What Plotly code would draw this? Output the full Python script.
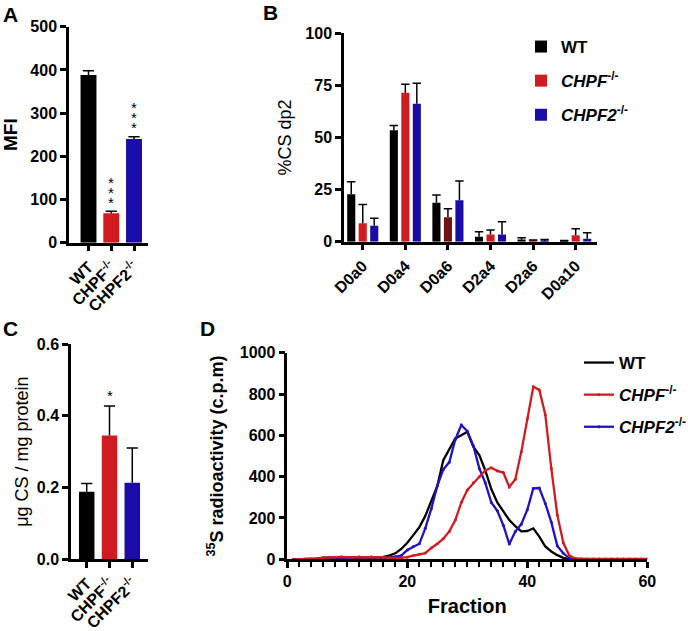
import plotly.graph_objects as go

FONT = "Arial, Liberation Sans, sans-serif"
BLACK = "#000000"
RED = "#d01c20"
MAROON = "#6e1212"
BLUE = "#1b0ca8"
BLUE_LINE = "#2211c0"

# ---------------- Panel A : MFI ----------------
a_groups = ["WT", "CHPF<sup>-/-</sup>", "CHPF2<sup>-/-</sup>"]
a_mfi = [388, 68, 240]
a_err = [10, 5, 5]
a_stars = [0, 3, 3]          # number of stacked asterisks

# ---------------- Panel B : %CS dp2 ----------------
b_cats = ["D0a0", "D0a4", "D0a6", "D2a4", "D2a6", "D0a10"]
b_wt = [22.8, 53.5, 18.7, 2.4, 1.0, 0.3]
b_wt_err = [6.0, 2.2, 3.7, 2.4, 0.9, 0.3]
b_chpf = [8.8, 71.5, 11.7, 3.4, 0.4, 3.1]
b_chpf_err = [9.0, 4.0, 4.1, 2.2, 0.4, 3.1]
b_chpf2 = [7.7, 66.2, 19.9, 3.5, 0.3, 1.4]
b_chpf2_err = [3.5, 9.8, 9.2, 6.1, 0.8, 2.9]

# ---------------- Panel C : ug CS / mg protein ----------------
c_groups = ["WT", "CHPF<sup>-/-</sup>", "CHPF2<sup>-/-</sup>"]
c_vals = [0.188, 0.345, 0.213]
c_err = [0.023, 0.082, 0.097]
c_stars = [0, 1, 0]

# ---------------- Panel D : 35S radioactivity ----------------
d_fraction = list(range(1, 61))
d_wt = [0, 0, 0, 1, 3, 8, 9, 9, 9, 9,
        9, 9, 9, 10, 10, 12, 18, 29, 50, 80,
        117, 155, 210, 280, 355, 480, 535, 585, 600, 617,
        545, 505, 430, 340, 275, 230, 190, 160, 135, 137,
        150, 110, 62, 38, 20, 7, 1, 0, 0, 0,
        0, 0, 0, 0, 0, 0, 0, 0, 0, 0]
d_chpf = [0, 0, 1, 2, 3, 8, 10, 10, 12, 10,
          10, 12, 10, 12, 10, 10, 8, 6, 8, 10,
          18, 25, 30, 55, 75, 100, 135, 190, 275, 335,
          370, 400, 430, 443, 428, 420, 350, 387, 520, 680,
          835, 820, 700, 440, 215, 80, 18, 4, 2, 2,
          2, 2, 2, 2, 2, 2, 2, 2, 2, 2]
d_chpf2 = [0, 0, 0, 0, 1, 3, 4, 4, 5, 5,
           5, 5, 5, 6, 6, 7, 8, 12, 18, 45,
           62, 75, 150, 245, 355, 435, 470, 580, 650, 620,
           550, 440, 370, 275, 235, 165, 74, 134, 170, 240,
           343, 345, 270, 180, 65, 29, 5, 0, 0, 0,
           0, 0, 0, 0, 0, 0, 0, 0, 0, 0]

W, H = 688, 631


def px_x(p):
    return p / W


def px_y(p):
    return 1 - p / H


fig = go.Figure()


def err_trace(x, vals, errs, xa, ya, cap):
    tops = [v + e for v, e in zip(vals, errs)]
    return go.Scatter(
        x=x, y=tops, mode="markers", xaxis=xa, yaxis=ya,
        marker=dict(symbol="line-ew-open", size=cap, color=BLACK,
                    line=dict(width=1.5, color=BLACK)),
        error_y=dict(type="data", symmetric=False, array=[0] * len(errs),
                     arrayminus=errs, width=0, thickness=1.5, color=BLACK),
        showlegend=False, hoverinfo="skip")


# ---- A ----
a_x = list(range(len(a_groups)))
fig.add_trace(go.Bar(x=a_x, y=a_mfi, width=0.7, marker=dict(color=[BLACK, RED, BLUE], line=dict(width=0)),
                     xaxis="x", yaxis="y", showlegend=False))
fig.add_trace(err_trace(a_x, a_mfi, a_err, "x", "y", 8))

# ---- B ----
b_series = [("WT", b_wt, b_wt_err, [BLACK] * 6, -0.27),
            ("<i>CHPF</i><sup>-/-</sup>", b_chpf, b_chpf_err,
             [RED, RED, MAROON, RED, RED, RED], 0.0),
            ("<i>CHPF2</i><sup>-/-</sup>", b_chpf2, b_chpf2_err, [BLUE] * 6, 0.27)]
for k, (name, vals, errs, cols, off) in enumerate(b_series):
    xs = [i + off for i in range(len(b_cats))]
    fig.add_trace(go.Bar(x=xs, y=vals, width=0.19, name=name,
                         marker=dict(color=cols, line=dict(width=0)),
                         xaxis="x2", yaxis="y2", legend="legend", legendgroup=f"b{k}"))
    fig.add_trace(err_trace(xs, vals, errs, "x2", "y2", 6))

# ---- C ----
c_x = list(range(len(c_groups)))
fig.add_trace(go.Bar(x=c_x, y=c_vals, width=0.68, marker=dict(color=[BLACK, RED, BLUE], line=dict(width=0)),
                     xaxis="x3", yaxis="y3", showlegend=False))
fig.add_trace(err_trace(c_x, c_vals, c_err, "x3", "y3", 8))

# ---- D ----
fig.add_trace(go.Scatter(x=d_fraction, y=d_wt, mode="lines", name="WT",
                         line=dict(color=BLACK, width=2.3), xaxis="x4", yaxis="y4",
                         legend="legend2", legendgroup="d0", legendrank=1))
fig.add_trace(go.Scatter(x=d_fraction, y=d_chpf2, mode="lines+markers", name="<i>CHPF2</i><sup>-/-</sup>",
                         line=dict(color=BLUE_LINE, width=2.3), marker=dict(size=3, color=BLUE_LINE),
                         xaxis="x4", yaxis="y4", legend="legend2", legendgroup="d2", legendrank=3))
fig.add_trace(go.Scatter(x=d_fraction, y=d_chpf, mode="lines+markers", name="<i>CHPF</i><sup>-/-</sup>",
                         line=dict(color=RED, width=2.3), marker=dict(size=3, color=RED),
                         xaxis="x4", yaxis="y4", legend="legend2", legendgroup="d1", legendrank=2))

# ---- annotations: stars ----
annotations = []
for i, n in enumerate(a_stars):
    for s in range(n):
        annotations.append(dict(x=a_x[i], y=a_mfi[i] + a_err[i], xref="x", yref="y", text="*",
                                showarrow=False, yanchor="middle", yshift=9 + 10 * s,
                                font=dict(family=FONT, size=15, color=BLACK)))
for i, n in enumerate(c_stars):
    for s in range(n):
        annotations.append(dict(x=c_x[i], y=c_vals[i] + c_err[i], xref="x3", yref="y3", text="*",
                                showarrow=False, yanchor="middle", yshift=11 + 10 * s,
                                font=dict(family=FONT, size=15, color=BLACK)))

# panel letters
for letter, xp, yp in [("A", 10, 15), ("B", 270, 13), ("C", 10, 329), ("D", 207, 329)]:
    annotations.append(dict(x=px_x(xp), y=px_y(yp), xref="paper", yref="paper", text=f"<b>{letter}</b>",
                            showarrow=False, xanchor="center", yanchor="middle",
                            font=dict(family=FONT, size=21, color=BLACK)))

tickfont = dict(family=FONT, size=16, color=BLACK, weight="bold")
common = dict(showline=True, linewidth=2.5, linecolor=BLACK, ticks="outside", ticklen=6,
              tickwidth=2.5, tickcolor=BLACK, showgrid=False, zeroline=False, tickfont=tickfont,
              automargin=False)

fig.update_layout(
    width=W, height=H, margin=dict(l=0, r=0, t=0, b=0, autoexpand=False),
    paper_bgcolor="white", plot_bgcolor="white",
    font=dict(family=FONT, color=BLACK),
    barmode="overlay",
    annotations=annotations,
    xaxis=dict(domain=[px_x(69), px_x(148)], range=[-0.857, 2.615], tickvals=a_x, ticktext=a_groups,
               tickangle=-45, anchor="y", **common),
    yaxis=dict(domain=[px_y(242.7), px_y(26.7)], range=[0, 500], dtick=100, anchor="x",
               title=dict(text="MFI", font=dict(family=FONT, size=19, color=BLACK, weight="bold"), standoff=10),
               **common),
    xaxis2=dict(domain=[px_x(344), px_x(597)], range=[-0.44, 5.5], tickvals=list(range(len(b_cats))),
                ticktext=b_cats, tickangle=-45, anchor="y2", **common),
    yaxis2=dict(domain=[px_y(241.7), px_y(33.3)], range=[0, 100], dtick=25, anchor="x2",
                title=dict(text="%CS dp2", font=dict(family=FONT, size=18, color=BLACK), standoff=10),
                **common),
    xaxis3=dict(domain=[px_x(71), px_x(148)], range=[-0.69, 2.69], tickvals=c_x, ticktext=c_groups,
                tickangle=-45, anchor="y3", **common),
    yaxis3=dict(domain=[px_y(559.3), px_y(344)], range=[0, 0.6], dtick=0.2, tickformat=".1f", anchor="x3",
                title=dict(text="μg CS / mg protein", font=dict(family=FONT, size=18, color=BLACK), standoff=4),
                **common),
    xaxis4=dict(domain=[px_x(287.3), px_x(647.3)], range=[0, 60], dtick=20, anchor="y4",
                minor=dict(dtick=2, ticks="outside", ticklen=5, tickwidth=2, tickcolor=BLACK),
                title=dict(text="Fraction", font=dict(family=FONT, size=20, color=BLACK, weight="bold"), standoff=10),
                **common),
    yaxis4=dict(domain=[px_y(559.3), px_y(352.7)], range=[0, 1000], dtick=200, anchor="x4",
                title=dict(text="<sup>35</sup>S radioactivity (c.p.m)",
                           font=dict(family=FONT, size=18, color=BLACK, weight="bold"), standoff=12),
                **common),
    legend=dict(x=px_x(521), y=px_y(29), xanchor="left", yanchor="top", bgcolor="rgba(0,0,0,0)",
                font=dict(family=FONT, size=17, color=BLACK, weight="bold"), tracegroupgap=9,
                traceorder="grouped"),
    legend2=dict(x=px_x(579), y=px_y(345), xanchor="left", yanchor="top", bgcolor="rgba(0,0,0,0)",
                 font=dict(family=FONT, size=17, color=BLACK, weight="bold"), tracegroupgap=7,
                 traceorder="grouped"),
)

fig.write_html("out.html", config={"displayModeBar": False},
               post_script="document.body.style.margin='0';document.body.style.overflow='hidden';")
